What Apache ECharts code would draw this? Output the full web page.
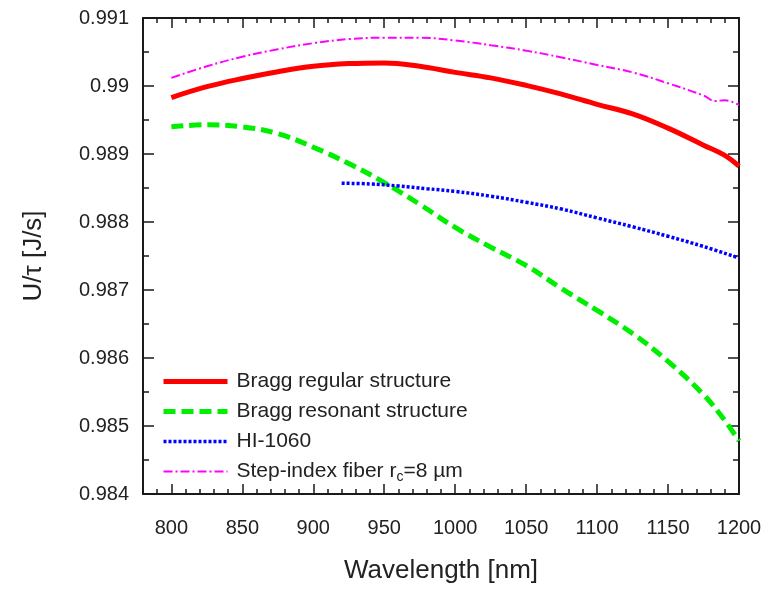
<!DOCTYPE html>
<html>
<head>
<meta charset="utf-8">
<script src="https://cdn.jsdelivr.net/npm/echarts@6/dist/echarts.min.js"></script>
<style>
html,body{margin:0;padding:0;background:#fff;}
#chart{width:769px;height:589px;}
</style>
</head>
<body>
<div id="chart"></div>
<script>
// Wavelength (nm) samples
var wlMain = [800, 825, 850, 875, 900, 925, 950, 975, 1000, 1025, 1050, 1075, 1100, 1125, 1150, 1175, 1190, 1200];
var braggRegular = [0.98983, 0.98999, 0.99011, 0.99021, 0.99029, 0.99033, 0.99034, 0.99029, 0.99020, 0.99012, 0.99001, 0.98988, 0.98973, 0.98959, 0.98938, 0.98913, 0.98898, 0.98882];
var braggResonant = [0.98940, 0.98943, 0.98940, 0.98930, 0.98910, 0.98886, 0.98858, 0.98826, 0.98792, 0.98763, 0.98736, 0.98702, 0.98670, 0.98636, 0.98595, 0.98546, 0.98508, 0.98478];
var wlHI = [920, 940, 960, 980, 1000, 1025, 1050, 1075, 1100, 1125, 1150, 1175, 1200];
var hi1060 = [0.98857, 0.98856, 0.98853, 0.98849, 0.98845, 0.98838, 0.98829, 0.98819, 0.98806, 0.98793, 0.98779, 0.98764, 0.98747];
var wlStep = [800, 825, 850, 875, 900, 925, 950, 975, 1000, 1025, 1050, 1075, 1100, 1125, 1150, 1175, 1183, 1190, 1200];
var stepIndex = [0.99012, 0.99029, 0.99043, 0.99054, 0.99063, 0.99069, 0.99071, 0.99071, 0.99067, 0.99060, 0.99052, 0.99042, 0.99031, 0.99020, 0.99004, 0.98986, 0.98978, 0.98979, 0.98972];
var seriesNames = ['Bragg regular structure', 'Bragg resonant structure', 'HI-1060', 'Step-index fiber rc=8 µm'];
var xMin = 780, xMax = 1200, xMinorStep = 10, xMajorStep = 50;
var yMin = 0.984, yMax = 0.991, yStep = 0.001;

function pairs(xs, ys) { return xs.map(function (x, i) { return [x, ys[i]]; }); }
var tickCats = [];
for (var v = xMin; v <= xMax; v += xMinorStep) tickCats.push(String(v));

var axisColor = '#1a1a1a';
var textColor = '#222';
var font = 'Liberation Sans, Arial, Helvetica, sans-serif';

var styles = [
  { color: '#ff0000', width: 5, type: 'solid', z: 4 },
  { color: '#00ee00', width: 5, type: [12, 6], z: 3 },
  { color: '#0000ff', width: 3.5, type: [3, 2], z: 5 },
  { color: '#ff00ff', width: 2, type: [9, 3, 2, 3], z: 2 }
];

function valueX(pos, showLabels) {
  return {
    type: 'value', position: pos, min: xMin, max: xMax, interval: xMinorStep,
    axisLine: { show: true, onZero: false, lineStyle: { color: axisColor, width: 2 } },
    axisTick: { show: true, inside: true, length: 5, lineStyle: { color: axisColor, width: 1.5 } },
    axisLabel: showLabels ? {
      show: true, fontSize: 20, color: textColor, fontFamily: font, margin: 24,
      formatter: function (val) { return (Math.round(val) % xMajorStep === 0) ? String(Math.round(val)) : ''; }
    } : { show: false },
    splitLine: { show: false },
    name: showLabels ? 'Wavelength [nm]' : '',
    nameLocation: 'middle', nameGap: 64,
    nameTextStyle: { fontSize: 26, color: textColor, fontFamily: font }
  };
}
function catX(pos) {
  return {
    type: 'category', position: pos, data: tickCats, boundaryGap: false,
    axisLine: { show: false },
    axisTick: { show: true, inside: true, length: 10, lineStyle: { color: axisColor, width: 1.5 },
      interval: function (i, val) { return (+val) % xMajorStep === 0; } },
    axisLabel: { show: false }, splitLine: { show: false }
  };
}
function valueY(pos, showLabels) {
  return {
    type: 'value', position: pos, min: yMin, max: yMax, interval: yStep,
    axisLine: { show: true, onZero: false, lineStyle: { color: axisColor, width: 2 } },
    axisTick: { show: true, inside: true, length: 11, lineStyle: { color: axisColor, width: 1.5 } },
    minorTick: { show: true, splitNumber: 2, length: 6, lineStyle: { color: axisColor, width: 1.5 } },
    axisLabel: showLabels ? {
      show: true, fontSize: 20, color: textColor, fontFamily: font, margin: 14,
      formatter: function (val) { return String(parseFloat((+val).toFixed(3))); }
    } : { show: false },
    splitLine: { show: false },
    name: showLabels ? 'U/τ [J/s]' : '',
    nameLocation: 'middle', nameGap: 96,
    nameTextStyle: { fontSize: 26, color: textColor, fontFamily: font }
  };
}

var seriesData = [pairs(wlMain, braggRegular), pairs(wlMain, braggResonant), pairs(wlHI, hi1060), pairs(wlStep, stepIndex)];

var chart = echarts.init(document.getElementById('chart'), null, { renderer: 'canvas' });
chart.setOption({
  backgroundColor: '#ffffff',
  animation: false,
  grid: { left: 143, right: 30, top: 18, bottom: 93, containLabel: false },
  xAxis: [valueX('bottom', true), catX('bottom'), valueX('top', false), catX('top')],
  yAxis: [valueY('left', true), valueY('right', false)],
  legend: {
    orient: 'vertical', left: 161, top: 371, itemWidth: 64, itemHeight: 14, itemGap: 9, padding: 0,
    data: seriesNames.map(function (n, i) {
      return { name: n, lineStyle: { width: styles[i].width, type: styles[i].type, color: styles[i].color } };
    }),
    itemStyle: { opacity: 0 },
    textStyle: {
      fontSize: 21, color: textColor, fontFamily: font, padding: [0, 0, 0, 4],
      rich: {
        a: { fontSize: 21, color: textColor, fontFamily: font },
        sub: { fontSize: 14, color: textColor, fontFamily: font, padding: [12, 0, 0, 0] }
      }
    },
    formatter: function (name) {
      if (name === seriesNames[3]) return '{a|Step-index fiber r}{sub|c}{a|=8 µm}';
      return name;
    }
  },
  series: seriesNames.map(function (n, i) {
    return {
      name: n, type: 'line', xAxisIndex: 0, yAxisIndex: 0, data: seriesData[i],
      smooth: 0.4, symbol: 'none', z: styles[i].z,
      lineStyle: { color: styles[i].color, width: styles[i].width, type: styles[i].type },
      itemStyle: { color: styles[i].color }
    };
  })
});
</script>
</body>
</html>
